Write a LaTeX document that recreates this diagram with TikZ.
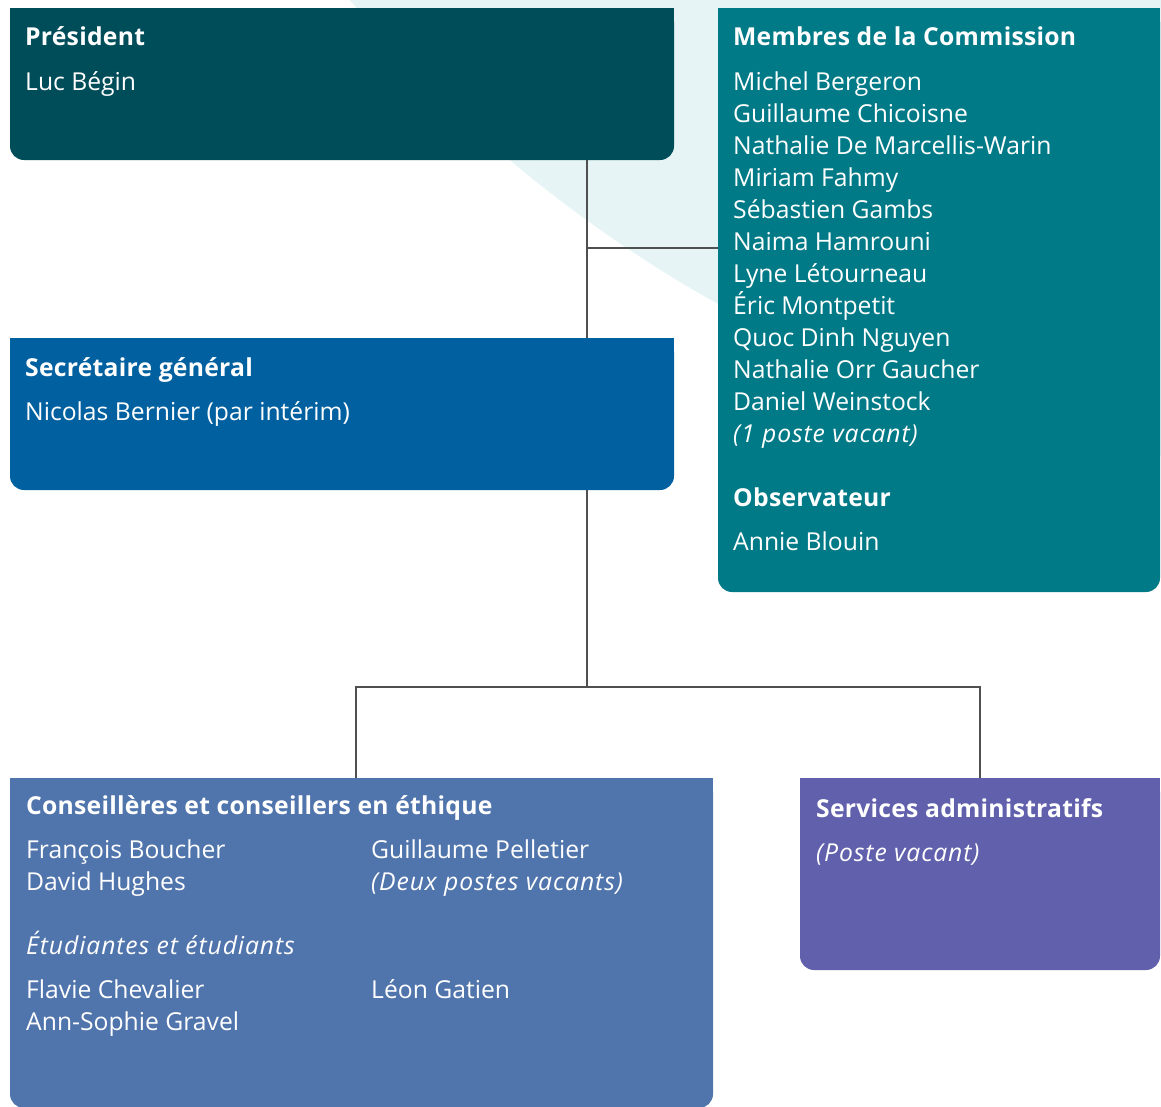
\documentclass[tikz,border=0pt]{standalone}
\usepackage{fontspec}
\setmainfont{Open Sans}
\newfontfamily\itfam[LetterSpace=3.7]{Open Sans Italic}
\newfontfamily\bffam[LetterSpace=1.0]{Open Sans Bold}
\definecolor{presc}{HTML}{004D5A}
\definecolor{memc}{HTML}{007A87}
\definecolor{secc}{HTML}{0060A0}
\definecolor{consc}{HTML}{5074AC}
\definecolor{servc}{HTML}{6060AC}
\definecolor{palec}{HTML}{E6F4F5}
\definecolor{linec}{HTML}{505050}
\tikzset{
  orgbox/.style={rectangle, inner sep=0pt, outer sep=0pt, rounded corners=14pt},
  txt/.style={anchor=base west, inner sep=0pt, text=white, font=\fontsize{24.7}{28}\selectfont},
  ttl/.style={txt, font=\fontsize{24.7}{28}\bffam\selectfont},
  itx/.style={txt, font=\fontsize{24.7}{28}\itfam\selectfont},
  conn/.style={draw=linec, line width=2.6pt}
}
\begin{document}
\begin{tikzpicture}[x=1pt,y=-1pt]
\useasboundingbox (0,0) rectangle (1161,1106);
\begin{scope}
  \clip (0,0) rectangle (1161,1106);
  \fill[palec] (1362,-852) circle[radius=1323pt];
\end{scope}

% boxes
\node[orgbox, fill=presc, minimum width=664pt, minimum height=152pt] (pres) at (342,84) {};
\fill[presc] (pres.north west) rectangle (pres.east);
\node[orgbox, fill=memc, minimum width=442pt, minimum height=584pt] (mem) at (939,300) {};
\fill[memc] (mem.north west) rectangle (mem.east);
\node[orgbox, fill=secc, minimum width=664pt, minimum height=152pt] (sec) at (342,414) {};
\fill[secc] (sec.north west) rectangle (sec.east);
\node[orgbox, fill=consc, minimum width=703pt, minimum height=330pt] (cons) at (361.5,943) {};
\fill[consc] (cons.north west) rectangle (cons.east);
\node[orgbox, fill=servc, minimum width=360pt, minimum height=192pt] (serv) at (980,874) {};
\fill[servc] (serv.north west) rectangle (serv.east);

% connectors
\coordinate (j1) at (587,248);
\coordinate (j2) at (587,687);
\coordinate (j3) at (356,687);
\draw[conn] (pres.south -| j1) -- (sec.north -| j1);
\draw[conn] (j1) -- (j1 -| mem.west);
\draw[conn] (sec.south -| j2) -- (j2);
\draw[conn] (j3 |- cons.north) -- (j3) -- (j3 -| serv.north) -- (serv.north);

% Président
\node[ttl] (presT) at (25,45) {Président};
\node[txt] (presN) at (25,90) {Luc Bégin};

% Secrétaire
\node[ttl] (secT) at (25,376) {Secrétaire général};
\node[txt] (secN) at (25,420) {Nicolas Bernier (par intérim)};

% Membres
\node[ttl] (memT) at (733,45) {Membres de la Commission};
\foreach \nm [count=\i] in {Michel Bergeron, Guillaume Chicoisne, Nathalie De Marcellis-Warin, Miriam Fahmy, Sébastien Gambs, Naima Hamrouni, Lyne Létourneau, Éric Montpetit, Quoc Dinh Nguyen, Nathalie Orr Gaucher, Daniel Weinstock}
  \node[txt] (m\i) at (733,{90+32*(\i-1)}) {\nm};
\node[itx] (mvac) at (733,442) {(1 poste vacant)};
\node[ttl] (obsT) at (733,506) {Observateur};
\node[txt] (obsN) at (733,550) {Annie Blouin};

% Conseillères
\node[ttl] (consT) at (26,814) {Conseillères et conseillers en éthique};
\node[txt] (c1) at (26,858) {François Boucher};
\node[txt] (c2) at (26,890) {David Hughes};
\node[txt] (c3) at (371,858) {Guillaume Pelletier};
\node[itx] (c4) at (371,890) {(Deux postes vacants)};
\node[itx] (etT) at (26,954) {Étudiantes et étudiants};
\node[txt] (e1) at (26,998) {Flavie Chevalier};
\node[txt] (e2) at (26,1030) {Ann-Sophie Gravel};
\node[txt] (e3) at (371,998) {Léon Gatien};

% Services
\node[ttl] (servT) at (816,817) {Services administratifs};
\node[itx] (servN) at (816,861) {(Poste vacant)};
\end{tikzpicture}
\end{document}
